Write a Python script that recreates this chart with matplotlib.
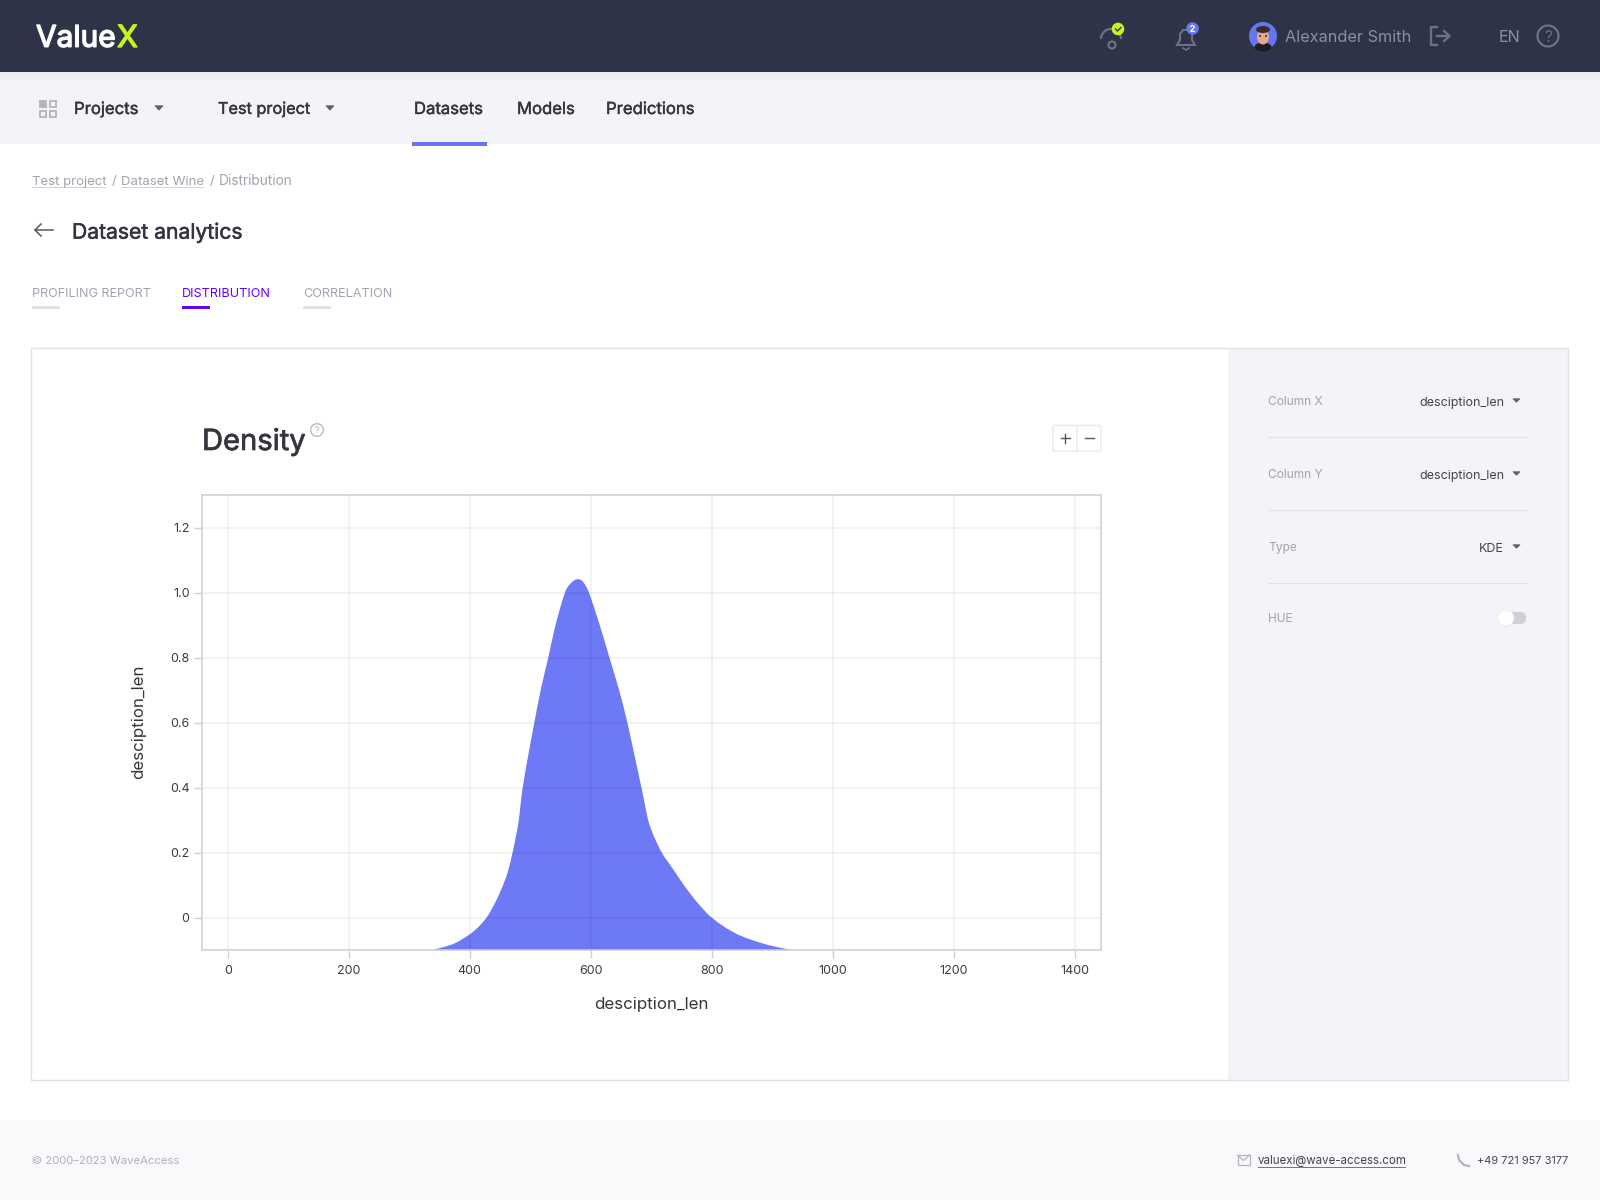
import matplotlib
matplotlib.use("Agg")
import matplotlib.pyplot as plt
import matplotlib.patheffects as pe
from matplotlib.path import Path
from matplotlib.patches import Rectangle, Circle, Ellipse, FancyBboxPatch, Polygon, Arc, PathPatch

plt.rcParams['font.family'] = ['Inter', 'DejaVu Sans']

# density curve
curve_x = [337, 351, 375.8, 400.6, 414, 428, 440, 452, 463, 471, 477, 481.3, 484.3, 487.7,
           497, 507, 517.5, 530, 542, 557.6, 566, 572.7, 579, 586, 592, 597.3, 615, 631, 647,
           660.7, 672.4, 684, 690, 695, 699, 704.8, 717.5, 737, 756, 777, 800, 838.7, 883,
           924, 940]
curve_y = [-0.1, -0.094, -0.079, -0.051, -0.03, 0.0, 0.038, 0.085, 0.14, 0.2, 0.255, 0.3,
           0.35, 0.4, 0.5, 0.6, 0.7, 0.8, 0.9, 1.0, 1.026, 1.037, 1.041, 1.036, 1.02, 1.0,
           0.9, 0.8, 0.7, 0.6, 0.5, 0.4, 0.345, 0.3, 0.277, 0.249, 0.2, 0.147, 0.095, 0.045,
           0.0, -0.048, -0.079, -0.097, -0.1]

x_ticks = [0, 200, 400, 600, 800, 1000, 1200, 1400]
y_ticks = [0, 0.2, 0.4, 0.6, 0.8, 1.0, 1.2]
y_tick_labels = ['0', '0.2', '0.4', '0.6', '0.8', '1.0', '1.2']
nav_items = ['Datasets', 'Models', 'Predictions']
tab_names = ['PROFILING REPORT', 'DISTRIBUTION', 'CORRELATION']
side_names = ['Column X', 'Column Y', 'Type']
side_values = ['desciption_len', 'desciption_len', 'KDE']

DARK = '#2f3347'
PALE = '#f3f3f8'
BLUE = '#6675f2'
TEXT = '#35353d'
GREY = '#a3a3b0'

fig = plt.figure(figsize=(16, 12), dpi=100, facecolor='white')

# whole page as one axes in pixel coordinates
ui = fig.add_axes([0, 0, 1, 1])
ui.set_xlim(0, 1600)
ui.set_ylim(1200, 0)
ui.axis('off')


def box(x0, y0, x1, y1, color, **kw):
    ui.add_patch(Rectangle((x0, y0), x1 - x0, y1 - y0, fc=color, ec='none', **kw))


def label(x, y, s, size, color=TEXT, heavy=0, ha='left'):
    # y is the middle of the capitals, so all labels on a row share a baseline
    t = ui.text(x, y + 0.36 * size * 1.389, s, fontsize=size, color=color, ha=ha, va='baseline')
    if heavy:
        t.set_path_effects([pe.withStroke(linewidth=heavy, foreground=color)])
    return t


def caret(x, y, color='#5b5f75', w=4, h=4.5):
    ui.add_patch(Polygon([(x - w, y - h / 2), (x + w, y - h / 2), (x, y + h / 2)], fc=color,
                         ec=color, lw=0.5, joinstyle='round'))


def smooth_area(xs, ys, base):
    # cubic segments through the read points, closed along the baseline
    n = len(xs)
    slopes = []
    for i in range(n):
        a = max(i - 1, 0)
        b = min(i + 1, n - 1)
        slopes.append((ys[b] - ys[a]) / (xs[b] - xs[a]))
    verts = [(xs[0], ys[0])]
    codes = [Path.MOVETO]
    for i in range(n - 1):
        h = (xs[i + 1] - xs[i]) / 3
        verts.append((xs[i] + h, ys[i] + slopes[i] * h))
        verts.append((xs[i + 1] - h, ys[i + 1] - slopes[i + 1] * h))
        verts.append((xs[i + 1], ys[i + 1]))
        codes += [Path.CURVE4] * 3
    verts += [(xs[-1], base), (xs[0], base), (xs[0], ys[0])]
    codes += [Path.LINETO, Path.LINETO, Path.CLOSEPOLY]
    return Path(verts, codes)


# header
box(0, 0, 1600, 72, DARK)
label(36, 36, 'Value', 21.5, 'white', 1.0)
label(117, 36, 'X', 22, '#c8f31d', 1.0)

icon = '#6e7183'
ui.add_patch(Arc((1111, 39), 20, 20, theta1=180, theta2=360, ec=icon, lw=1.6))
ui.add_patch(Circle((1112, 45), 3.5, fc=DARK, ec=icon, lw=1.6))
ui.add_patch(Circle((1118, 29), 6.3, fc='#c8f31d', ec='none'))
ui.plot([1115.5, 1117.5, 1121], [29, 31, 27.5], color=DARK, lw=1)

ui.add_patch(Polygon([(1177, 45), (1180, 40), (1180, 34), (1183, 30), (1189, 30), (1192, 34),
                      (1192, 40), (1195, 45)], closed=True, fc='none', ec=icon, lw=1.5))
ui.plot([1183, 1186, 1189], [48, 50, 48], color=icon, lw=1.2)
ui.add_patch(Circle((1192.5, 28.5), 6.3, fc=BLUE, ec='none'))
label(1192.5, 28.5, '2', 6.5, 'white', 0.3, ha='center')

# avatar
ui.add_patch(Circle((1263, 36), 14, fc=BLUE, ec='none'))
ui.add_patch(Ellipse((1263, 47), 17, 9, fc='#1d1d22', ec='none'))
ui.add_patch(Ellipse((1263, 37), 12, 15, fc='#e2a98a', ec='none'))
ui.add_patch(Ellipse((1263, 29.5), 14, 7, fc='#3a2c27', ec='none'))
ui.add_patch(Circle((1260, 36), 0.9, fc='#222222'))
ui.add_patch(Circle((1266, 36), 0.9, fc='#222222'))

label(1285, 36, 'Alexander Smith', 11.7, '#8d8fa0')
ui.plot([1437, 1431, 1431, 1437], [27, 27, 45, 45], color=icon, lw=1.7)
ui.plot([1437, 1449], [36, 36], color=icon, lw=1.7)
ui.plot([1444, 1449.5, 1444], [31, 36, 41], color=icon, lw=1.7)
label(1499, 36, 'EN', 11.7, '#8d8fa0')
ui.add_patch(Circle((1548, 36), 10.5, fc='none', ec=icon, lw=1.6))
label(1548, 36, '?', 11, icon, ha='center')

# nav bar
box(0, 72, 1600, 144, PALE)
for i in range(10):
    box(0, 72 + i, 1600, 73 + i, '#2f3347', alpha=0.05 * (1 - i / 10))
for gx, gy, filled in [(40, 101, True), (50, 101, False), (40, 111, False), (50, 111, False)]:
    ui.add_patch(Rectangle((gx, gy), 6, 6, fc='#b4b4bf' if filled else 'none', ec='#b4b4bf', lw=1.3))
label(74, 108, 'Projects', 12, TEXT, 0.3)
caret(159, 108)
label(218, 108, 'Test project', 11.7, TEXT, 0.3)
caret(330, 108)
for nx, name in zip([414, 517, 606], nav_items):
    label(nx, 108, name, 12, TEXT, 0.3)
box(412, 142, 487, 146, BLUE)

# breadcrumbs and page title
crumb = '#a3a3b0'
label(32, 180, 'Test project', 9.5, crumb)
label(111.5, 180, '/', 9.5, crumb)
label(121, 180, 'Dataset Wine', 9.5, crumb)
label(209.5, 180, '/', 9.5, crumb)
label(219, 180, 'Distribution', 9.9, crumb)
box(32, 187, 106, 188, '#d4d4dc')
box(121, 187, 204, 188, '#d4d4dc')
ui.plot([53, 35], [230, 230], color='#55555e', lw=1.1)
ui.plot([41, 35, 41], [224, 230, 236], color='#55555e', lw=1.1)
label(72, 231, 'Dataset analytics', 15.2, TEXT, 0.4)

# tabs
for tx, name, active in zip([32, 182, 303], tab_names, [False, True, False]):
    label(tx, 292.5, name, 9.1, '#6200ff' if active else '#a3a3b0')
    box(tx, 306, tx + 28, 309, '#6200ff' if active else '#e2e2e6')

# main panel and side panel
box(1228, 349, 1568, 1080, PALE)
ui.add_patch(Rectangle((31, 348), 1537, 732, fc='none', ec='#e2e2e6', lw=1))

for sy, name, value in zip([401, 474, 547], side_names, side_values):
    label(1268, sy, name, 8.6, GREY)
    label(1504, sy, value, 9, '#45454f', ha='right')
    caret(1516.5, sy - 0.5, w=3.5, h=3.5)
    box(1268, sy + 36, 1528, sy + 37, '#e2e2e8')
label(1268, 618, 'HUE', 8.6, GREY)
ui.add_patch(FancyBboxPatch((1500, 612), 26, 12, boxstyle='round,pad=0,rounding_size=6',
                            fc='#cfcfd6', ec='none'))
ui.add_patch(Circle((1506, 618), 8, fc='white', ec='#e9e9ee', lw=0.5))

# chart title and zoom buttons
label(202, 439.5, 'Density', 21, TEXT, 0.5)
ui.add_patch(Circle((317, 430), 6.3, fc='none', ec='#b4b4bf', lw=0.9))
label(317, 430, '?', 6.5, '#b4b4bf', ha='center')
ui.add_patch(FancyBboxPatch((1053, 425.5), 48, 25.5, boxstyle='round,pad=0,rounding_size=2',
                            fc='white', ec='#ececf0', lw=1.2))
ui.plot([1077, 1077], [425.5, 451], color='#ececf0', lw=1.2)
ui.plot([1060.5, 1069.5], [438, 438], color='#55555e', lw=1)
ui.plot([1065, 1065], [433.5, 442.5], color='#55555e', lw=1)
ui.plot([1085, 1094], [438, 438], color='#55555e', lw=1)

# the chart
ax = fig.add_axes([202 / 1600, 1 - 950 / 1200, 899 / 1600, 455 / 1200])
ax.add_patch(PathPatch(smooth_area(curve_x, curve_y, -0.1), facecolor='#5e6bf4', alpha=0.9,
                       linewidth=0, zorder=2))
ax.set_xlim(-42.5, 1443.8)
ax.set_ylim(-0.1, 1.3)
ax.set_xticks(x_ticks)
ax.set_yticks(y_ticks)
ax.set_yticklabels(y_tick_labels)
ax.grid(True, color='black', alpha=0.06, lw=1.1, zorder=3)
ax.set_axisbelow(False)
ax.tick_params(axis='both', length=5.5, width=1, color='#d0d0d8', labelsize=9, labelcolor='#3a3a42')
ax.tick_params(axis='x', pad=5.5)
ax.tick_params(axis='y', pad=3.5)
for s in ax.spines.values():
    s.set_color('#cdcdd5')
    s.set_linewidth(1.1)
    s.set_zorder(4)
ax.set_xlabel('desciption_len', fontsize=12.2, color=TEXT, labelpad=0)
ax.set_ylabel('desciption_len', fontsize=12.2, color=TEXT, labelpad=0)
ax.xaxis.set_label_coords((651 - 202) / 899, -(1004 - 950) / 455, transform=ax.transAxes)
ax.xaxis.label.set_va('center')
ax.yaxis.set_label_coords((139 - 202) / 899, 1 - (722 - 495) / 455, transform=ax.transAxes)
ax.yaxis.label.set_va('center')

# footer
box(0, 1120, 1600, 1200, '#f9f9fb')
label(32, 1160, '© 2000–2023 WaveAccess', 8.1, '#b0b0bc')
ui.add_patch(Rectangle((1237.5, 1155), 12, 9.5, fc='none', ec='#b4b4bf', lw=0.9))
ui.plot([1237.5, 1243.5, 1249.5], [1155, 1160.5, 1155], color='#b4b4bf', lw=0.9)
label(1258, 1160, 'valuexi@wave-access.com', 8.3, '#45454f')
box(1258, 1167, 1406, 1168, '#77777f')
ui.plot([1458, 1459, 1464, 1469], [1155, 1160, 1165, 1166], color='#b4b4bf', lw=1.6)
label(1568, 1160, '+49 721 957 3177', 7.9, '#45454f', ha='right')

fig.savefig('out.png', dpi=100)
